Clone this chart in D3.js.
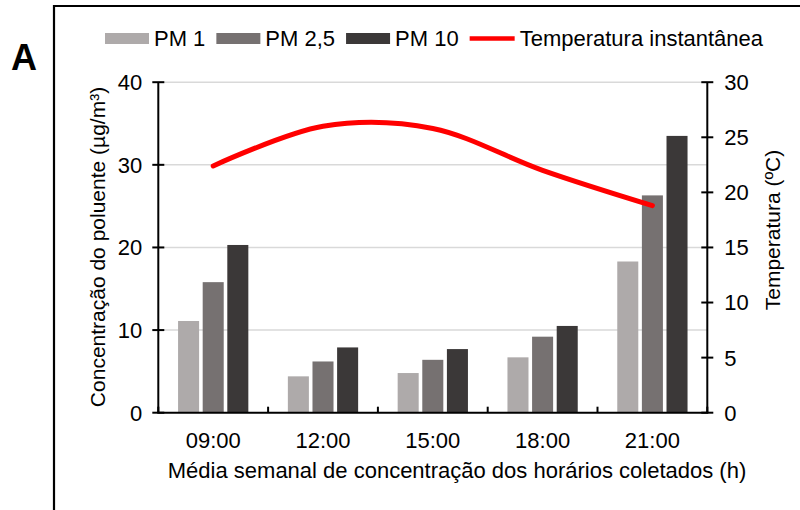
<!DOCTYPE html>
<html><head><meta charset="utf-8">
<script src="https://cdn.jsdelivr.net/npm/d3@7"></script>
<style>body{margin:0;background:#fff} text{font-family:"Liberation Sans",Arial,sans-serif;fill:#000}</style>
</head><body><svg id="c" width="800" height="510"></svg>
<script>
const categories = ["09:00","12:00","15:00","18:00","21:00"];
const seriesNames = ["PM 1","PM 2,5","PM 10"];
const pm1 = [11.1, 4.4, 4.8, 6.7, 18.3];
const pm25 = [15.8, 6.2, 6.4, 9.2, 26.3];
const pm10 = [20.3, 7.9, 7.7, 10.5, 33.5];
const temperatura = [22.4, 26.0, 25.8, 22.0, 18.8];
const lineName = "Temperatura instantânea";
const leftTicks = [0, 10, 20, 30, 40];
const rightTicks = [0, 5, 10, 15, 20, 25, 30];
const xTitle = "Média semanal de concentração dos horários coletados (h)";
const yTitle = "Concentração do poluente (µg/m³)";
const y2Title = "Temperatura (ºC)";
const panelLabel = "A";

const seriesValues = [pm1, pm25, pm10];
const colors = ["#aeaaaa", "#767171", "#3b3838"];
const FS = 22;

const svg = d3.select("#c");
const L = 158.3, R = 707.3, T = 82.2, B = 412.7;

// frame
svg.append("path").attr("d", "M54,510V6H800").attr("fill", "none").attr("stroke", "#000").attr("stroke-width", 2.2);
svg.append("text").attr("x", 11).attr("y", 70).attr("font-size", 36).attr("font-weight", "bold").text(panelLabel);

const x = d3.scaleBand().domain(categories).range([L, R]).paddingInner(0.36).paddingOuter(0.18);
const x1 = d3.scaleBand().domain(seriesNames).range([0, x.bandwidth()]).paddingInner(0.146);
const y = d3.scaleLinear().domain([0, 40]).range([B, T]);
const y2 = d3.scaleLinear().domain([0, 30]).range([B, T]);

// gridlines
svg.append("g").selectAll("line").data(leftTicks.filter(d => d > 0)).join("line")
  .attr("x1", L).attr("x2", R).attr("y1", d => y(d)).attr("y2", d => y(d))
  .attr("stroke", "#d9d9d9").attr("stroke-width", 1.5);

// bars
const rows = categories.map((c, i) => ({c, vals: seriesValues.map((s, j) => ({name: seriesNames[j], v: s[i], j}))}));
svg.append("g").selectAll("g").data(rows).join("g")
  .attr("transform", d => `translate(${x(d.c)},0)`)
  .selectAll("rect").data(d => d.vals).join("rect")
  .attr("x", d => x1(d.name)).attr("width", x1.bandwidth())
  .attr("y", d => y(d.v)).attr("height", d => B - y(d.v))
  .attr("fill", d => colors[d.j]);

// axes
const axisG = svg.append("g");
axisG.append("line").attr("x1", L).attr("x2", L).attr("y1", T).attr("y2", B).attr("stroke", "#000").attr("stroke-width", 2);
axisG.append("line").attr("x1", R).attr("x2", R).attr("y1", T).attr("y2", B).attr("stroke", "#000").attr("stroke-width", 2);
axisG.append("line").attr("x1", L - 1).attr("x2", R + 1).attr("y1", B).attr("y2", B).attr("stroke", "#000").attr("stroke-width", 2);
axisG.selectAll(".lt").data(leftTicks).join("line").attr("class", "lt")
  .attr("x1", L - 6).attr("x2", L + 6).attr("y1", d => y(d)).attr("y2", d => y(d)).attr("stroke", "#000").attr("stroke-width", 2);
axisG.selectAll(".rt").data(rightTicks).join("line").attr("class", "rt")
  .attr("x1", R - 6).attr("x2", R + 6).attr("y1", d => y2(d)).attr("y2", d => y2(d)).attr("stroke", "#000").attr("stroke-width", 2);
const bounds = categories.map(c => x(c) - x.step() * x.paddingInner() / 2).concat([R]);
axisG.selectAll(".bt").data(bounds).join("line").attr("class", "bt")
  .attr("x1", d => d).attr("x2", d => d).attr("y1", B - 6).attr("y2", B).attr("stroke", "#000").attr("stroke-width", 2);

axisG.selectAll(".ll").data(leftTicks).join("text").attr("class", "ll")
  .attr("x", L - 16).attr("y", d => y(d)).attr("dy", "0.36em").attr("text-anchor", "end").attr("font-size", FS).text(d => d);
axisG.selectAll(".rl").data(rightTicks).join("text").attr("class", "rl")
  .attr("x", R + 17).attr("y", d => y2(d)).attr("dy", "0.36em").attr("text-anchor", "start").attr("font-size", FS).text(d => d);
axisG.selectAll(".xl").data(categories).join("text").attr("class", "xl")
  .attr("x", d => x(d) + x.bandwidth() / 2).attr("y", 448).attr("text-anchor", "middle").attr("font-size", FS).text(d => d);

// titles
svg.append("text").attr("x", 457).attr("y", 478).attr("text-anchor", "middle").attr("font-size", FS).text(xTitle);
svg.append("text").attr("transform", "translate(105,247) rotate(-90)").attr("text-anchor", "middle").attr("font-size", 21).text(yTitle);
svg.append("text").attr("transform", "translate(780,230) rotate(-90)").attr("text-anchor", "middle").attr("font-size", 21).text(y2Title);

// temperature line
const line = d3.line().x((d, i) => x(categories[i]) + x.bandwidth() / 2).y(d => y2(d)).curve(d3.curveCardinal.tension(0));
svg.append("path").datum(temperatura).attr("d", line).attr("fill", "none").attr("stroke", "#ff0000").attr("stroke-width", 5).attr("stroke-linecap", "round");

// legend
const lg = svg.append("g");
let lx = 105; const ly = 38.5;
seriesNames.forEach((n, j) => {
  lg.append("rect").attr("x", lx).attr("y", ly - 5.5).attr("width", 44).attr("height", 11).attr("fill", colors[j]);
  const t = lg.append("text").attr("x", lx + 49).attr("y", ly).attr("dy", "0.36em").attr("font-size", FS).text(n);
  lx = lx + 49 + t.node().getComputedTextLength() + 11;
});
lg.append("line").attr("x1", lx).attr("x2", lx + 45).attr("y1", ly).attr("y2", ly).attr("stroke", "#ff0000").attr("stroke-width", 4.5);
lg.append("text").attr("x", lx + 50).attr("y", ly).attr("dy", "0.36em").attr("font-size", FS).text(lineName);
</script></body></html>
